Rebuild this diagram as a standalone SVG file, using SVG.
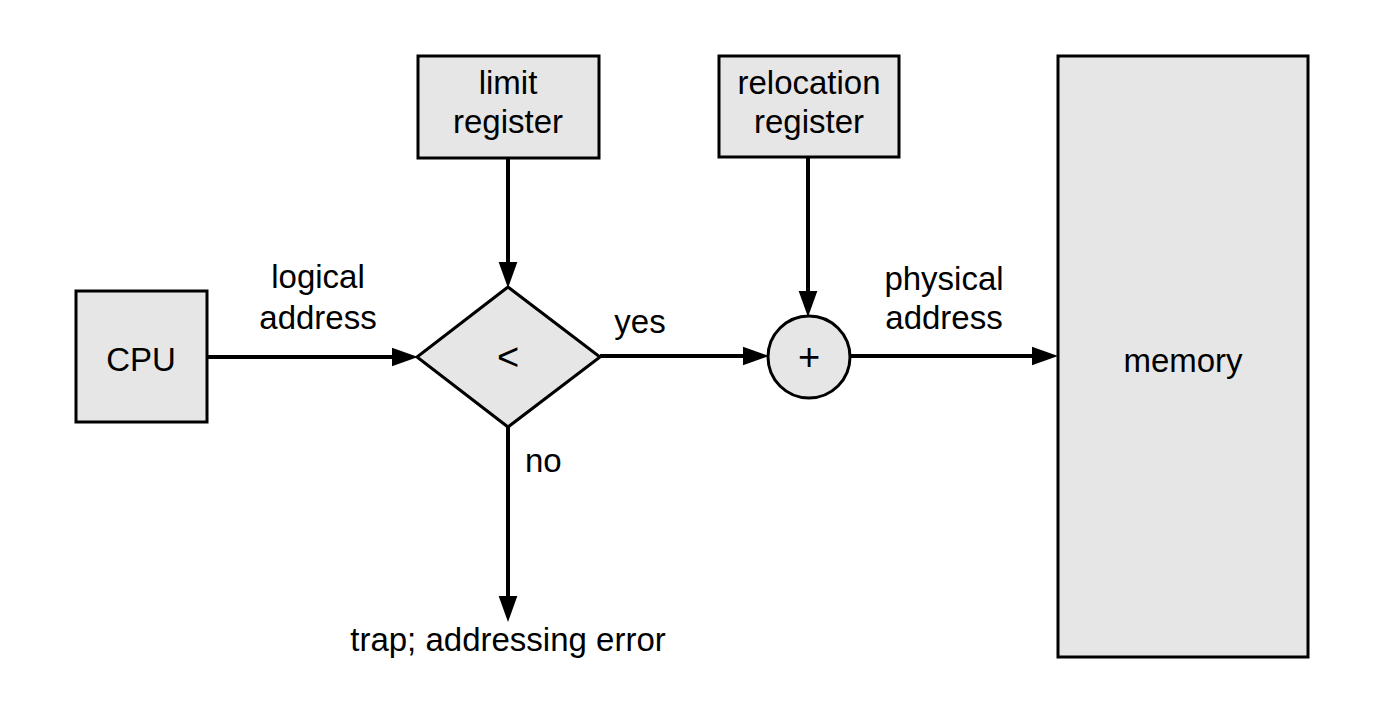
<svg xmlns="http://www.w3.org/2000/svg" width="1376" height="720" viewBox="0 0 1376 720">
<style>
.box{fill:#e6e6e6;stroke:#000;stroke-width:3}
.conn{stroke:#000;stroke-width:4;fill:none}
.t{font-family:"Liberation Sans",Arial,Helvetica,sans-serif;font-size:33px;fill:#000;text-anchor:middle}
.op{font-size:38px}
</style>
<defs>
<marker id="ah" markerUnits="userSpaceOnUse" markerWidth="26" markerHeight="20" viewBox="0 0 25 18" refX="0" refY="9" orient="auto">
<path d="M0,0 L25,9 L0,18 z" fill="#000"/>
</marker>
</defs>
<rect width="1376" height="720" fill="#fff"/>
<g id="connectors">
<line class="conn" x1="207" y1="357" x2="392" y2="357" marker-end="url(#ah)"/>
<line class="conn" x1="508" y1="158" x2="508" y2="262" marker-end="url(#ah)"/>
<line class="conn" x1="808" y1="157" x2="808" y2="291" marker-end="url(#ah)"/>
<line class="conn" x1="600" y1="356" x2="743" y2="356" marker-end="url(#ah)"/>
<line class="conn" x1="850" y1="356" x2="1032" y2="356" marker-end="url(#ah)"/>
<line class="conn" x1="508" y1="427" x2="508" y2="596" marker-end="url(#ah)"/>
<text class="t" x="318" y="288">logical</text>
<text class="t" x="318" y="329">address</text>
<text class="t" x="640" y="333">yes</text>
<text class="t" x="944" y="290">physical</text>
<text class="t" x="944" y="329">address</text>
<text class="t" x="525" y="472" style="text-anchor:start">no</text>
</g>
<g id="cpu">
<rect class="box" x="76" y="291" width="131" height="131"/>
<text class="t" x="141" y="371">CPU</text>
</g>
<g id="limit-register">
<rect class="box" x="418" y="56" width="181" height="102"/>
<text class="t" x="508" y="94">limit</text>
<text class="t" x="508" y="133">register</text>
</g>
<g id="relocation-register">
<rect class="box" x="719" y="56" width="180" height="101"/>
<text class="t" x="809" y="94">relocation</text>
<text class="t" x="809" y="133">register</text>
</g>
<g id="compare">
<polygon class="box" points="508,287 600,357 508,427 417,357"/>
<text class="t op" x="508" y="370">&lt;</text>
</g>
<g id="adder">
<circle class="box" cx="809" cy="357" r="41"/>
<text class="t op" x="809" y="370">+</text>
</g>
<g id="memory">
<rect class="box" x="1058" y="56" width="250" height="601"/>
<text class="t" x="1183" y="372">memory</text>
</g>
<g id="trap">
<text class="t" x="508" y="651">trap; addressing error</text>
</g>
</svg>
